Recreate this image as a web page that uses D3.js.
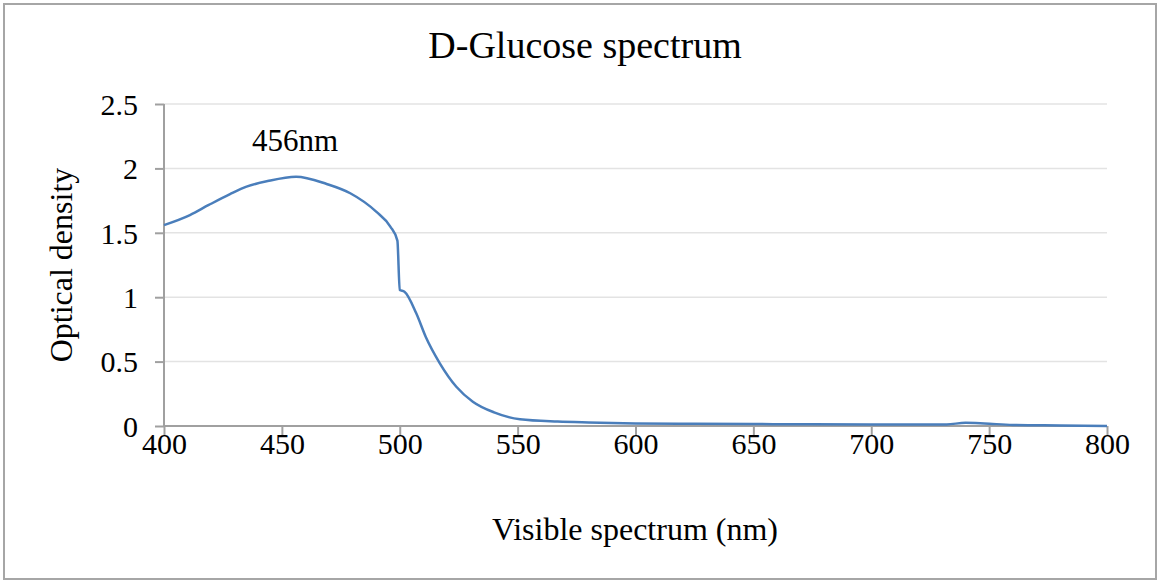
<!DOCTYPE html>
<html>
<head>
<meta charset="utf-8">
<script src="https://cdn.jsdelivr.net/npm/d3@7"></script>
<style>
  html, body { margin: 0; padding: 0; background: #fff; }
  svg { display: block; }
  text { font-family: "Liberation Serif", "Times New Roman", serif; fill: #000; }
</style>
</head>
<body>
<svg id="chart" width="1159" height="581"></svg>
<script>
const titleText = "D-Glucose spectrum";
const xTitle = "Visible spectrum (nm)";
const yTitle = "Optical density";
const peakLabel = "456nm";
const peakWavelength = 456;
const xTicks = [400, 450, 500, 550, 600, 650, 700, 750, 800];
const yTicks = [0, 0.5, 1, 1.5, 2, 2.5];
const wavelengths = [400,411,419,428,435,444,456,469,479,490,496,499,500,502,507,511,517,524,531,540,551,567,580,600,625,650,675,700,725,732,740,748,760,780,800];
const opticalDensity = [1.56,1.638,1.716,1.80,1.858,1.902,1.936,1.879,1.807,1.664,1.548,1.439,1.056,1.043,0.875,0.693,0.487,0.305,0.189,0.106,0.052,0.034,0.027,0.02,0.017,0.015,0.013,0.012,0.011,0.012,0.025,0.02,0.008,0.004,0];

const svg = d3.select("#chart");

svg.append("rect").attr("x", 4).attr("y", 4).attr("width", 1152).attr("height", 575)
  .attr("fill", "#fff").attr("stroke", "#a6a6a6").attr("stroke-width", 2);

const x = d3.scaleLinear().domain([400, 800]).range([164, 1107]);
const y = d3.scaleLinear().domain([0, 2.5]).range([426, 104]);

// gridlines
svg.append("g").selectAll("line").data(yTicks.filter(d => d > 0)).join("line")
  .attr("x1", x(400)).attr("x2", x(800))
  .attr("y1", d => y(d)).attr("y2", d => y(d))
  .attr("stroke", "#e3e3e3").attr("stroke-width", 1.5);

// y axis
const yAxis = d3.axisLeft(y).tickValues(yTicks).tickSize(9).tickFormat(d3.format("~g"));
const gy = svg.append("g").attr("transform", `translate(${x(400)},0)`).call(yAxis);
gy.attr("font-family", null);
gy.select(".domain").attr("stroke", "#a0a0a0").attr("stroke-width", 2).attr("d", `M0,${y(0)}V${y(2.5)}`);
gy.selectAll(".tick line").attr("stroke", "#a0a0a0").attr("stroke-width", 2);
gy.selectAll(".tick text").attr("font-size", 30).attr("x", -26).attr("dy", "0.34em").attr("fill", "#000");

// x axis
const xAxis = d3.axisBottom(x).tickValues(xTicks).tickSize(10).tickFormat(d3.format("d"));
const gx = svg.append("g").attr("transform", `translate(0,${y(0)})`).call(xAxis);
gx.attr("font-family", null);
gx.select(".domain").attr("stroke", "#a0a0a0").attr("stroke-width", 2).attr("d", `M${x(400)},0H${x(800)}`);
gx.selectAll(".tick line").attr("stroke", "#a0a0a0").attr("stroke-width", 2);
gx.selectAll(".tick text").attr("font-size", 30).attr("y", 28).attr("dy", 0).attr("fill", "#000");

// line
const data = wavelengths.map((w, i) => ({w, v: opticalDensity[i]}));
const line = d3.line().x(d => x(d.w)).y(d => y(d.v)).curve(d3.curveMonotoneX);
svg.append("path").datum(data).attr("d", line)
  .attr("fill", "none").attr("stroke", "#4a7ebb").attr("stroke-width", 2.5)
  .attr("stroke-linejoin", "round");

// title
svg.append("text").attr("x", 585).attr("y", 58).attr("text-anchor", "middle")
  .attr("font-size", 38).text(titleText);

// peak label
svg.append("text").attr("x", x(peakWavelength) - 1).attr("y", 151).attr("text-anchor", "middle")
  .attr("font-size", 31).text(peakLabel);

// axis titles
svg.append("text").attr("x", 635).attr("y", 540).attr("text-anchor", "middle")
  .attr("font-size", 32).text(xTitle);
svg.append("text").attr("transform", `translate(72,265) rotate(-90)`).attr("text-anchor", "middle")
  .attr("font-size", 32).text(yTitle);
</script>
</body>
</html>
